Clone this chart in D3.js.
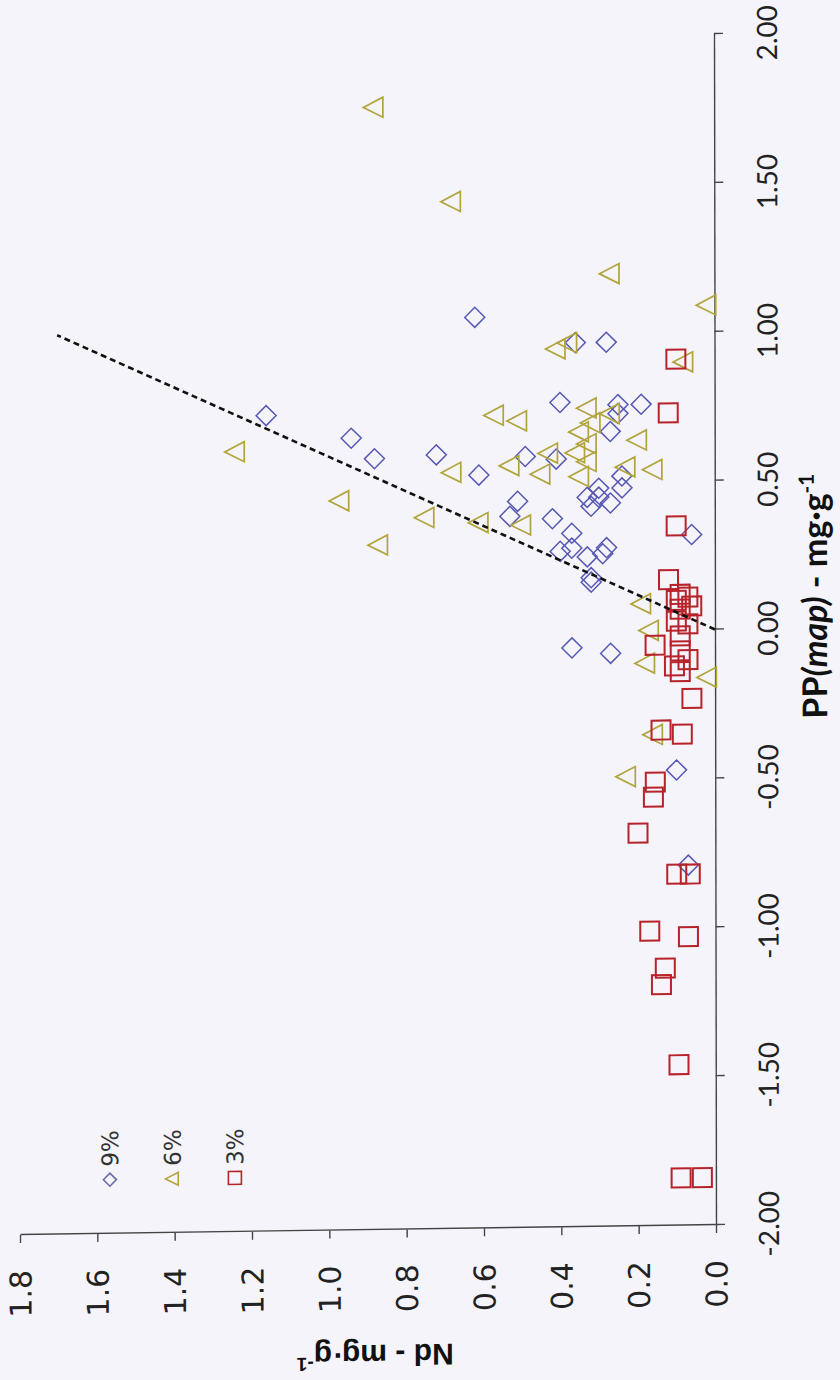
<!DOCTYPE html>
<html>
<head>
<meta charset="utf-8">
<script src="https://cdn.jsdelivr.net/npm/d3@7"></script>
<style>
  html, body { margin: 0; padding: 0; background: #f4f4fa; }
  svg { display: block; }
</style>
</head>
<body>
<svg id="chart" width="840" height="1380"></svg>
<script>
// PP(map) and Nd concentrations (mg·g-1) for the three treatments
const pp9 = [1.06, 0.97, 0.97, 0.74, 0.66, 0.59, 0.60, 0.53, 0.77, 0.76, 0.76, 0.73, 0.67,
             0.58, 0.59, 0.52, 0.48, 0.48, 0.45, 0.45, 0.43, 0.42, 0.44, 0.39, 0.38, 0.33,
             0.28, 0.27, 0.28, 0.26, 0.25, 0.18, 0.165, 0.32, -0.055, -0.075, -0.47, -0.79];
const nd9 = [0.62, 0.36, 0.28, 1.16, 0.94, 0.88, 0.72, 0.61, 0.40, 0.25, 0.19, 0.25, 0.27,
             0.41, 0.49, 0.24, 0.24, 0.30, 0.33, 0.30, 0.27, 0.32, 0.51, 0.53, 0.42, 0.37,
             0.37, 0.40, 0.28, 0.29, 0.33, 0.32, 0.32, 0.06, 0.37, 0.27, 0.10, 0.07];

const pp6 = [1.77, 1.45, 1.20, 1.09, 0.95, 0.97, 0.90, 0.62, 0.45, 0.30, 0.54, 0.39, 0.37,
             0.73, 0.71, 0.75, 0.73, 0.70, 0.67, 0.64, 0.63, 0.60, 0.60, 0.56, 0.57, 0.53,
             0.52, 0.55, 0.54, 0.36, 0.09, 0.00, -0.11, -0.16, -0.35, -0.49];
const nd6 = [0.88, 0.68, 0.27, 0.02, 0.41, 0.38, 0.08, 1.24, 0.97, 0.87, 0.68, 0.75, 0.61,
             0.57, 0.51, 0.33, 0.27, 0.32, 0.35, 0.20, 0.33, 0.36, 0.43, 0.53, 0.33, 0.45,
             0.35, 0.23, 0.16, 0.50, 0.19, 0.17, 0.18, 0.02, 0.16, 0.23];

const pp3 = [0.91, 0.73, 0.35, 0.17, 0.12, 0.11, 0.08, 0.10, 0.07, 0.03, 0.02, -0.02, -0.05,
             -0.07, -0.10, -0.12, -0.14, -0.23, -0.335, -0.35, -0.51, -0.56, -0.68, -0.82,
             -0.82, -1.01, -1.03, -1.135, -1.19, -1.46, -1.84, -1.84];
const nd3 = [0.10, 0.12, 0.10, 0.12, 0.09, 0.07, 0.06, 0.10, 0.09, 0.10, 0.07, 0.09, 0.155,
             0.09, 0.07, 0.105, 0.09, 0.06, 0.14, 0.085, 0.155, 0.16, 0.20, 0.10,
             0.065, 0.17, 0.07, 0.13, 0.14, 0.095, 0.09, 0.035];

// Fitted line end points
const trendPP = [0.0, 1.02];
const trendNd = [0.0, 1.70];

const ppTicks = [-2, -1.5, -1, -0.5, 0, 0.5, 1, 1.5, 2];
const ndTicks = [0, 0.2, 0.4, 0.6, 0.8, 1.0, 1.2, 1.4, 1.6, 1.8];
const seriesNames = ["9%", "6%", "3%"];

const W = 1191, H = 696;
const x = d3.scaleLinear().domain([-2, 2]).range([0, W]);
const y = d3.scaleLinear().domain([0, 1.8]).range([H, 0]);

const colors = { d: "#5858b4", t: "#b0a43a", s: "#b8222a" };

// marker outlines centred on 0,0
const diamond = r => `M0,${-r}L${r},0L0,${r}L${-r},0Z`;
const triangle = r => `M0,${-r * 1.05}L${r},${r * 0.9}L${-r},${r * 0.9}Z`;
const square = r => `M${-r},${-r}H${r}V${r}H${-r}Z`;

const svg = d3.select("#chart");
svg.append("rect").attr("width", 840).attr("height", 1380).attr("fill", "#f4f4fa");

// the plot is laid out on its side on the page
const g = svg.append("g")
  .attr("transform", "matrix(-0.00168,-1,1,-0.01437,20,1235)");

// PP axis
const gx = g.append("g")
  .attr("transform", `translate(0,${H})`)
  .call(d3.axisBottom(x).tickValues(ppTicks).tickFormat(d => d.toFixed(2))
    .tickSize(9).tickSizeOuter(0));
gx.attr("font-family", null).attr("font-size", null);
gx.select(".domain").attr("stroke", "#444").attr("stroke-width", 1.4);
gx.selectAll(".tick line").attr("stroke", "#444").attr("stroke-width", 1.4);
gx.selectAll(".tick text")
  .attr("y", 63).attr("dy", 0)
  .attr("fill", "#222")
  .style("font-family", "Lato, 'Open Sans', sans-serif")
  .style("font-size", "28px");

// Nd axis
const gy = g.append("g")
  .call(d3.axisLeft(y).tickValues(ndTicks).tickFormat(d => d.toFixed(1))
    .tickSize(8).tickSizeOuter(0));
gy.attr("font-family", null).attr("font-size", null);
gy.select(".domain").attr("stroke", "#444").attr("stroke-width", 1.4);
gy.selectAll(".tick line").attr("stroke", "#444").attr("stroke-width", 1.4);
gy.selectAll(".tick text")
  .attr("x", -35).attr("dy", "0.36em")
  .attr("fill", "#222")
  .style("font-family", "'DejaVu Sans', sans-serif")
  .style("font-size", "30px");

// scatter series
function drawSeries(pp, nd, shape, r, color, sw) {
  g.append("g").selectAll("path")
    .data(pp.map((p, i) => [p, nd[i]]))
    .join("path")
    .attr("transform", d => `translate(${x(d[0])},${y(d[1])})`)
    .attr("d", shape(r))
    .attr("fill", "none")
    .attr("stroke", color)
    .attr("stroke-width", sw);
}
drawSeries(pp9, nd9, diamond, 10, colors.d, 1.5);
drawSeries(pp6, nd6, triangle, 10, colors.t, 1.7);
drawSeries(pp3, nd3, square, 9.5, colors.s, 2);

// fitted line
g.append("path")
  .attr("d", d3.line()(trendPP.map((p, i) => [x(p), y(trendNd[i])])))
  .attr("fill", "none")
  .attr("stroke", "#111")
  .attr("stroke-width", 2.6)
  .attr("stroke-dasharray", "6,4");

// legend
const legendShapes = [[diamond, 6.5, "#6a6aa8"], [triangle, 6.5, colors.t], [square, 6.5, colors.s]];
const lg = g.append("g").attr("transform", "translate(54,90)");
seriesNames.forEach((name, i) => {
  const row = lg.append("g").attr("transform", `translate(0,${i * 62.5})`);
  row.append("path")
    .attr("d", legendShapes[i][0](legendShapes[i][1]))
    .attr("fill", "none")
    .attr("stroke", legendShapes[i][2])
    .attr("stroke-width", 1.6);
  row.append("text")
    .attr("x", 13).attr("dy", "0.36em")
    .attr("fill", "#333")
    .style("font-family", "'DejaVu Sans', sans-serif")
    .style("font-size", "23px")
    .text(name);
});

// axis titles
const tx = g.append("text")
  .attr("x", 505).attr("y", H + 112)
  .attr("fill", "#111")
  .style("font-family", "Lato, 'Open Sans', sans-serif")
  .style("font-weight", "bold")
  .style("font-size", "34px");
tx.append("tspan").text("PP");
tx.append("tspan").style("font-style", "italic").text("(map)");
tx.append("tspan").text(" - mg·g");
tx.append("tspan").attr("dy", -13).style("font-size", "21px").text("-1");

const ty = g.append("text")
  .attr("transform", "translate(-115,355) rotate(-90)")
  .attr("text-anchor", "middle")
  .attr("fill", "#111")
  .style("font-family", "'Liberation Sans', Arial, sans-serif")
  .style("font-weight", "bold")
  .style("font-size", "30px");
ty.append("tspan").text("Nd - mg·g");
ty.append("tspan").attr("dy", -12).style("font-size", "19px").text("-1");
</script>
</body>
</html>
